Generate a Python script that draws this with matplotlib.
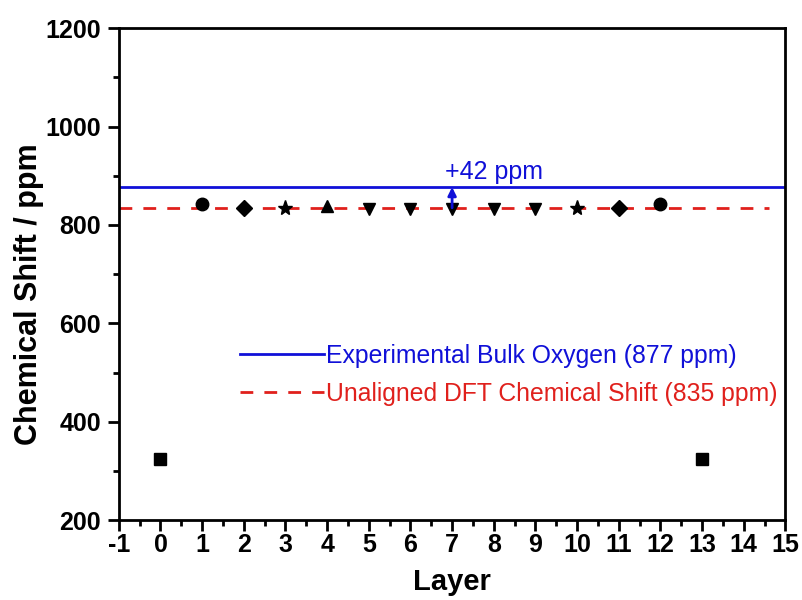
import matplotlib.pyplot as plt
from matplotlib.ticker import MultipleLocator

plt.rcParams['font.family'] = ['Liberation Sans', 'DejaVu Sans']
plt.rcParams['axes.unicode_minus'] = False

# layer shifts grouped by marker symbol
square_layers = [0, 13]
square_shift = [325, 325]
circle_layers = [1, 12]
circle_shift = [842, 842]
diamond_layers = [2, 11]
diamond_shift = [835, 835]
star_layers = [3, 10]
star_shift = [835, 835]
up_layers = [4]
up_shift = [838]
down_layers = [5, 6, 7, 8, 9]
down_shift = [832, 832, 832, 832, 832]

exp_bulk = 877
dft_bulk = 835

fig = plt.figure(figsize=(8.03, 6.0), dpi=100)
ax = fig.add_axes([0.148, 0.133, 0.83, 0.82])

ax.plot([-1, 15], [exp_bulk, exp_bulk], color='#1010d8', lw=2,
        label='Experimental Bulk Oxygen (877 ppm)')
ax.plot([-1, 14.6], [dft_bulk, dft_bulk], color='#e0201c', lw=2,
        dashes=(4.6, 4.0), label='Unaligned DFT Chemical Shift (835 ppm)')

ms = 9
ax.plot(square_layers, square_shift, 's', color='black', ms=8, ls='none')
ax.plot(circle_layers, circle_shift, 'o', color='black', ms=ms, ls='none')
ax.plot(diamond_layers, diamond_shift, 'D', color='black', ms=8, ls='none')
ax.plot(star_layers, star_shift, '*', color='black', ms=11, ls='none')
ax.plot(up_layers, up_shift, '^', color='black', ms=ms, ls='none')
ax.plot(down_layers, down_shift, 'v', color='black', ms=ms, ls='none')

ax.annotate('', xy=(7, exp_bulk), xytext=(7, dft_bulk),
            arrowprops=dict(arrowstyle='-|>', color='#1010d8', lw=2,
                            mutation_scale=12, shrinkA=0, shrinkB=0))
ax.text(6.84, 907, '+42 ppm', color='#1010d8', fontsize=18, va='center')

ax.set_xlim(-1, 15)
ax.set_ylim(200, 1200)
ax.xaxis.set_major_locator(MultipleLocator(1))
ax.xaxis.set_minor_locator(MultipleLocator(0.5))
ax.yaxis.set_major_locator(MultipleLocator(200))
ax.yaxis.set_minor_locator(MultipleLocator(100))
ax.tick_params(which='both', direction='out', width=2, top=False, right=False)
ax.tick_params(which='major', length=8, labelsize=18)
ax.tick_params(axis='y', which='major', pad=5)
ax.tick_params(axis='x', which='major', pad=1)
ax.tick_params(which='minor', length=4)
for lab in ax.get_xticklabels() + ax.get_yticklabels():
    lab.set_fontweight('bold')
for sp in ax.spines.values():
    sp.set_linewidth(2)

ax.set_xlabel('Layer', fontsize=21, fontweight='bold', labelpad=8)
ax.set_ylabel('Chemical Shift / ppm', fontsize=22, fontweight='bold')
ax.yaxis.set_label_coords(-0.112, 0.46)

leg = ax.legend(loc='upper left', bbox_to_anchor=(0.182, 0.359), frameon=False,
                fontsize=17.8, handlelength=3.4, handletextpad=0.08,
                labelspacing=0.58, borderpad=0, borderaxespad=0,
                labelcolor='linecolor')

fig.savefig('out.png', dpi=100)
